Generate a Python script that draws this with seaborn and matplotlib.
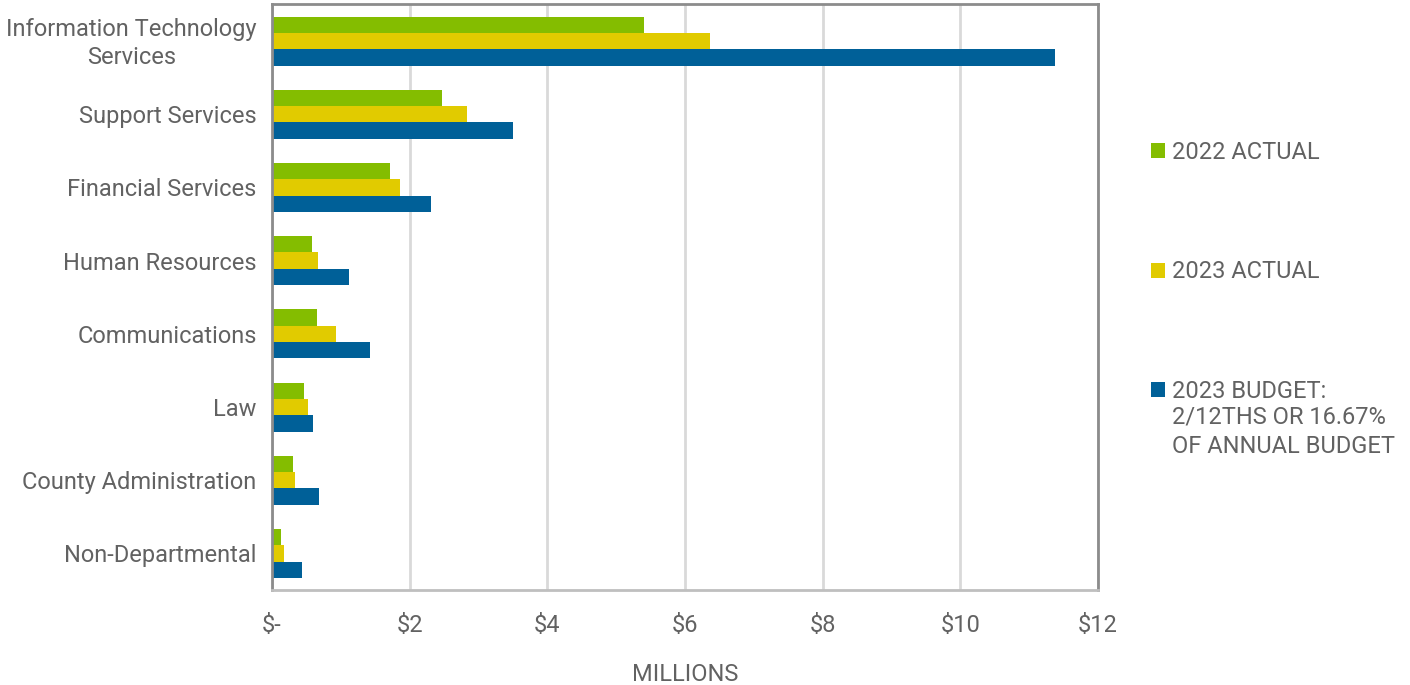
import matplotlib
matplotlib.use("Agg")
import matplotlib.pyplot as plt
import matplotlib.transforms as mtransforms
import seaborn as sns
import pandas as pd
from matplotlib.patches import Patch

categories = ["Information Technology\nServices", "Support Services", "Financial Services",
              "Human Resources", "Communications", "Law", "County Administration",
              "Non-Departmental"]
actual_2022 = [5.40, 2.47, 1.72, 0.585, 0.65, 0.46, 0.31, 0.135]
actual_2023 = [6.36, 2.83, 1.86, 0.67, 0.93, 0.53, 0.33, 0.17]
budget_2023 = [11.38, 3.50, 2.31, 1.12, 1.43, 0.59, 0.69, 0.43]
series_names = ["2022 ACTUAL", "2023 ACTUAL", "2023 BUDGET:"]
budget_extra = "2/12THS OR 16.67%\nOF ANNUAL BUDGET"
xtick_vals = [0, 2, 4, 6, 8, 10, 12]
xtick_labels = ["$-", "$2", "$4", "$6", "$8", "$10", "$12"]
colors = ["#84BD00", "#E1CB00", "#006098"]

sns.set_theme(style="white")
plt.rcParams["font.family"] = ["Roboto", "DejaVu Sans"]
plt.rcParams["font.weight"] = "normal"
TXT = "#626262"
FS = 17

df = pd.DataFrame({
    "Department": categories * 3,
    "Value": actual_2022 + actual_2023 + budget_2023,
    "Series": [series_names[0]] * 8 + [series_names[1]] * 8 + [series_names[2]] * 8,
})

fig = plt.figure(figsize=(14.1, 6.85), dpi=100)
ax = fig.add_axes([272 / 1410, 1 - 590 / 685, (1098 - 272) / 1410, (590 - 4.5) / 685])
sns.barplot(data=df, y="Department", x="Value", hue="Series", orient="h",
            palette=colors, width=0.67, ax=ax, legend=False, saturation=1,
            edgecolor="none")

ax.set_xlim(0, 12)
ax.set_ylim(7.5, -0.5)
ax.set_xticks(xtick_vals)
ax.set_xticklabels(xtick_labels)
ax.xaxis.grid(True, color="#d9d9d9", linewidth=2)
ax.set_axisbelow(True)
ax.tick_params(axis="x", length=0, pad=17, labelsize=FS, labelcolor=TXT)
ax.tick_params(axis="y", length=0, pad=11, labelsize=FS, labelcolor=TXT)
for lab in ax.get_yticklabels():
    lab.set_multialignment("center")
    lab.set_linespacing(1.3)
    if "\n" in lab.get_text():
        lab.set_verticalalignment("center")
        lab.set_transform(lab.get_transform() +
                          mtransforms.ScaledTranslation(0, -2.5 / 100, fig.dpi_scale_trans))
ax.set_ylabel("")
ax.set_xlabel("MILLIONS", fontsize=FS, color=TXT, labelpad=19)
for side in ["left", "top", "right"]:
    ax.spines[side].set_color("#8c8c8c")
    ax.spines[side].set_linewidth(2)
ax.spines["bottom"].set_color("#bfbfbf")
ax.spines["bottom"].set_linewidth(2)

handles = [Patch(facecolor=c, edgecolor="none") for c in colors]
leg = fig.legend(handles, series_names, loc="upper left",
                 bbox_to_anchor=(1151 / 1410, 1 - 141 / 685), frameon=False,
                 fontsize=FS, labelcolor=TXT, handlelength=0.6, handleheight=0.6,
                 handletextpad=0.28, labelspacing=4.08, borderpad=0, borderaxespad=0)

fig.canvas.draw()
bb = leg.get_texts()[2].get_window_extent().transformed(fig.transFigure.inverted())
fig.text(bb.x0, bb.y0 - 2.5 / 685, budget_extra, ha="left", va="top",
         fontsize=FS, color=TXT, linespacing=1.4)

fig.savefig("out.png", dpi=100)
